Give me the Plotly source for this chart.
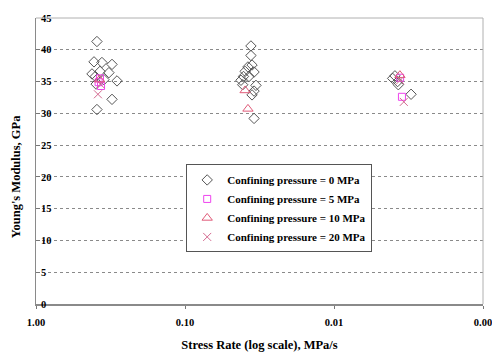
import plotly.graph_objects as go

# Stress rate (MPa/s) and Young's modulus (GPa) per confining pressure
rate_0 = [0.390, 0.408, 0.361, 0.309, 0.421, 0.324, 0.286, 0.309, 0.390, 0.400, 0.372, 0.395, 0.350,
          0.0361, 0.0361, 0.0355, 0.0378, 0.0344, 0.0395, 0.0405, 0.0421, 0.0372, 0.0334, 0.0344, 0.0355, 0.0344, 0.0410,
          0.00404, 0.00374, 0.00390, 0.00304, 0.00370]
e_0 = [41.3, 38.1, 38.0, 37.7, 36.2, 36.4, 35.1, 32.2, 30.6, 35.8, 36.6, 34.6, 35.3,
       40.6, 39.1, 37.6, 37.3, 36.5, 36.6, 35.8, 35.2, 35.8, 34.4, 33.5, 32.9, 29.2, 34.5,
       35.5, 35.0, 35.9, 33.0, 34.5]

rate_5 = [0.372, 0.366, 0.380, 0.00360, 0.00350]
e_5 = [35.5, 34.3, 34.9, 35.6, 32.6]

rate_10 = [0.375, 0.0395, 0.0378, 0.00361]
e_10 = [35.3, 33.6, 30.7, 36.0]

rate_20 = [0.384, 0.370, 0.00340, 0.00360]
e_20 = [33.0, 34.6, 31.8, 35.2]

x_tickvals = [1, 0.1, 0.01, 0.001]
x_ticktext = ["1.00", "0.10", "0.01", "0.00"]

series_names = ["Confining pressure = 0 MPa", "Confining pressure = 5 MPa",
                "Confining pressure = 10 MPa", "Confining pressure = 20 MPa"]

FONT = "Liberation Serif"

fig = go.Figure()
fig.add_trace(go.Scatter(x=rate_0, y=e_0, mode="markers", name=series_names[0],
                         marker=dict(symbol="diamond-open", size=8, color="#555555", line=dict(width=1))))
fig.add_trace(go.Scatter(x=rate_5, y=e_5, mode="markers", name=series_names[1],
                         marker=dict(symbol="square-open", size=7, color="#ee44ee", line=dict(width=1))))
fig.add_trace(go.Scatter(x=rate_10, y=e_10, mode="markers", name=series_names[2],
                         marker=dict(symbol="triangle-up-open", size=9, color="#e05a78", line=dict(width=1))))
fig.add_trace(go.Scatter(x=rate_20, y=e_20, mode="markers", name=series_names[3],
                         marker=dict(symbol="x-thin-open", size=8, color="#d46a90", line=dict(width=1))))

# page body has an 8px margin, so the figure is sized to fit the 500x356 window
fig.update_layout(
    width=492, height=348,
    margin=dict(l=28, r=17, t=10, b=52),
    paper_bgcolor="white", plot_bgcolor="white",
    font=dict(family=FONT, color="black"),
    showlegend=True,
    legend=dict(x=0.336, y=0.488, xanchor="left", yanchor="top",
                bgcolor="white", bordercolor="#555555", borderwidth=1,
                font=dict(family=FONT, size=11, color="black", weight="bold"),
                tracegroupgap=0),
    shapes=[
        dict(type="line", xref="paper", yref="paper", x0=0, x1=1, y0=1, y1=1,
             line=dict(color="#b0b0b0", width=1)),
        dict(type="line", xref="paper", yref="paper", x0=1, x1=1, y0=0, y1=1,
             line=dict(color="#b0b0b0", width=1)),
    ],
    annotations=[
        dict(text="Young's Modulus, GPa", xref="paper", yref="paper", x=-0.046, y=0.445,
             xanchor="center", yanchor="middle", textangle=-90, showarrow=False,
             font=dict(family=FONT, size=12.5, color="black", weight="bold")),
    ],
)

fig.update_xaxes(
    type="log", range=[0, -3], autorange=False, automargin=False,
    tickvals=x_tickvals, ticktext=x_ticktext,
    ticks="outside", ticklen=3, tickcolor="#777777", ticklabelstandoff=4,
    showline=True, linecolor="#8a8a8a", linewidth=2,
    showgrid=False, zeroline=False,
    tickfont=dict(family=FONT, size=10.5, color="black", weight="bold"),
    title=dict(text="Stress Rate (log scale), MPa/s", standoff=14,
               font=dict(family=FONT, size=12.5, color="black", weight="bold")),
)
fig.update_yaxes(
    range=[0, 45], autorange=False, dtick=5, automargin=False,
    ticks="inside", ticklen=4, tickcolor="#777777",
    ticklabelposition="inside", ticklabeloverflow="allow",
    showline=True, linecolor="#8a8a8a", linewidth=1,
    showgrid=True, gridcolor="#8a8a8a", griddash="dot", gridwidth=1,
    zeroline=False,
    tickfont=dict(family=FONT, size=10.5, color="black", weight="bold"),
)

fig.write_html("out.html")
